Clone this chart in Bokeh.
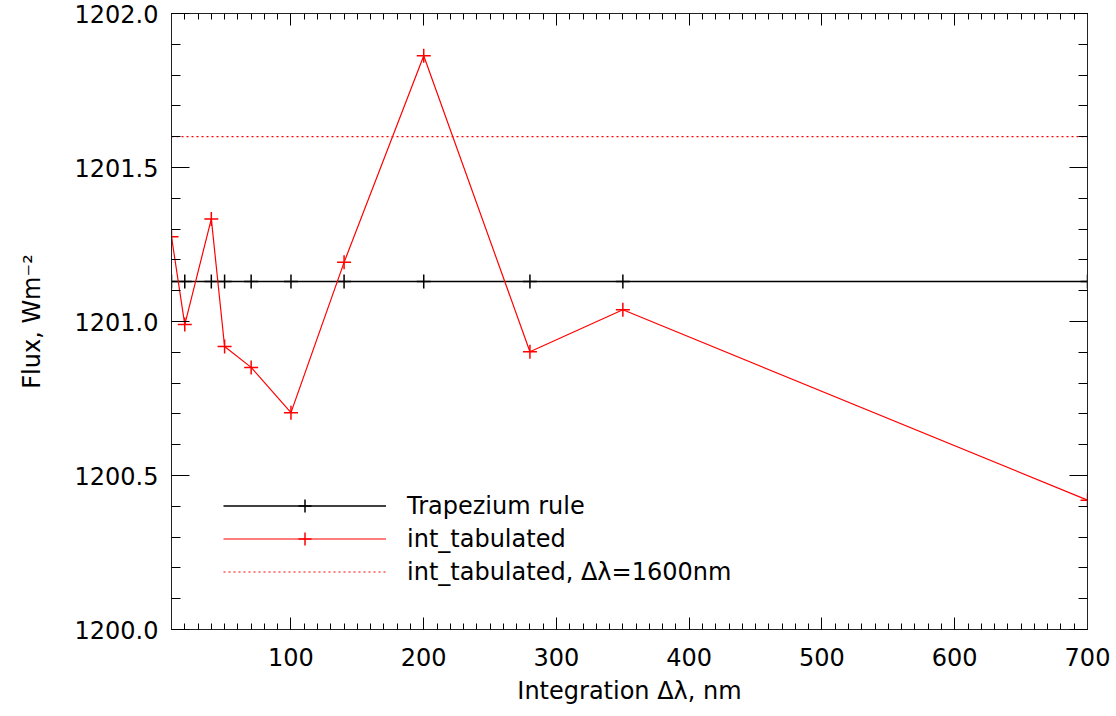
from bokeh.plotting import figure
from bokeh.models import (Range1d, LinearAxis, SingleIntervalTicker, PrintfTickFormatter,
                          CustomJSTickFormatter, Legend, LegendItem)
from bokeh.embed import file_html
from bokeh.resources import INLINE

# Integration step (nm) and the resulting integrated flux (W m^-2)
delta_lambda = [10, 20, 40, 50, 70, 100, 140, 200, 280, 350, 700]
flux_trapezium = [1201.13, 1201.13, 1201.13, 1201.13, 1201.13, 1201.13,
                  1201.13, 1201.13, 1201.13, 1201.13, 1201.13]
flux_int_tabulated = [1201.275, 1200.99, 1201.333, 1200.919, 1200.851, 1200.704,
                      1201.192, 1201.863, 1200.902, 1201.038, 1200.42]
flux_int_tabulated_1600 = 1201.60

FONT = "DejaVu Sans"
FS = "24px"
RED = "#ff0000"

p = figure(width=1116, height=716, output_backend="svg", toolbar_location=None,
           x_range=Range1d(10, 700), y_range=Range1d(1200.0, 1202.0),
           min_border_left=171, min_border_right=29, min_border_top=13, min_border_bottom=87,
           x_axis_label="Integration Δλ, nm", y_axis_label="Flux, Wm⁻²")
p.outline_line_color = None
p.grid.visible = False
p.background_fill_color = "white"
p.border_fill_color = "white"

xticker = SingleIntervalTicker(interval=100, num_minor_ticks=10)
yticker = SingleIntervalTicker(interval=0.5, num_minor_ticks=5)

# mirrored axes on top and right carry ticks only
p.add_layout(LinearAxis(), "above")
p.add_layout(LinearAxis(), "right")

blank = CustomJSTickFormatter(code="return ''")
for ax in p.xaxis:
    ax.ticker = xticker
    ax.major_tick_in = 12
    ax.major_tick_out = 0
    ax.minor_tick_in = 6
    ax.minor_tick_out = 0
for ax in p.yaxis:
    ax.ticker = yticker
    ax.major_tick_in = 18
    ax.major_tick_out = 0
    ax.minor_tick_in = 9
    ax.minor_tick_out = 0
for ax in p.xaxis + p.yaxis:
    ax.axis_line_color = "#222222"
    ax.major_tick_line_color = "black"
    ax.minor_tick_line_color = "black"
    ax.major_label_text_font = FONT
    ax.major_label_text_font_size = FS
    ax.major_label_text_color = "black"
    ax.axis_label_text_font = FONT
    ax.axis_label_text_font_size = FS
    ax.axis_label_text_font_style = "normal"
    ax.axis_label_text_color = "black"

p.above[0].formatter = blank
p.right[0].formatter = blank
p.above[0].major_label_text_font_size = "1px"
p.right[0].major_label_text_font_size = "1px"

xb = p.below[0]
xb.major_label_standoff = 18
xb.axis_label_standoff = 8
yl = p.left[0]
yl.formatter = PrintfTickFormatter(format="%.1f")
yl.major_label_standoff = 13
yl.axis_label_standoff = 26

# reference flux with a single 1600 nm step
ref_line = p.line(x=[min(delta_lambda), max(delta_lambda)],
                  y=[flux_int_tabulated_1600, flux_int_tabulated_1600],
                  line_color=RED, line_width=1.2, line_dash="2 3")

trap_line = p.line(delta_lambda, flux_trapezium, line_color="black", line_width=1.4)
trap_pts = p.scatter(delta_lambda, flux_trapezium, marker="cross", size=14,
                     line_color="black", line_width=1.5)

tab_line = p.line(delta_lambda, flux_int_tabulated, line_color=RED, line_width=1.2)
tab_pts = p.scatter(delta_lambda, flux_int_tabulated, marker="cross", size=14,
                    line_color=RED, line_width=1.5)

legend = Legend(items=[
    LegendItem(label="Trapezium rule", renderers=[trap_line, trap_pts]),
    LegendItem(label="int_tabulated", renderers=[tab_line, tab_pts]),
    LegendItem(label="int_tabulated, Δλ=1600nm", renderers=[ref_line]),
], location=(52, 41), orientation="vertical",
    glyph_width=163, glyph_height=33, label_height=33, spacing=0, padding=0, margin=0,
    label_standoff=21, label_text_font=FONT, label_text_font_size=FS,
    label_text_color="black", border_line_color=None, background_fill_alpha=0)
p.add_layout(legend)

open("out.html", "w").write(file_html(p, INLINE))
